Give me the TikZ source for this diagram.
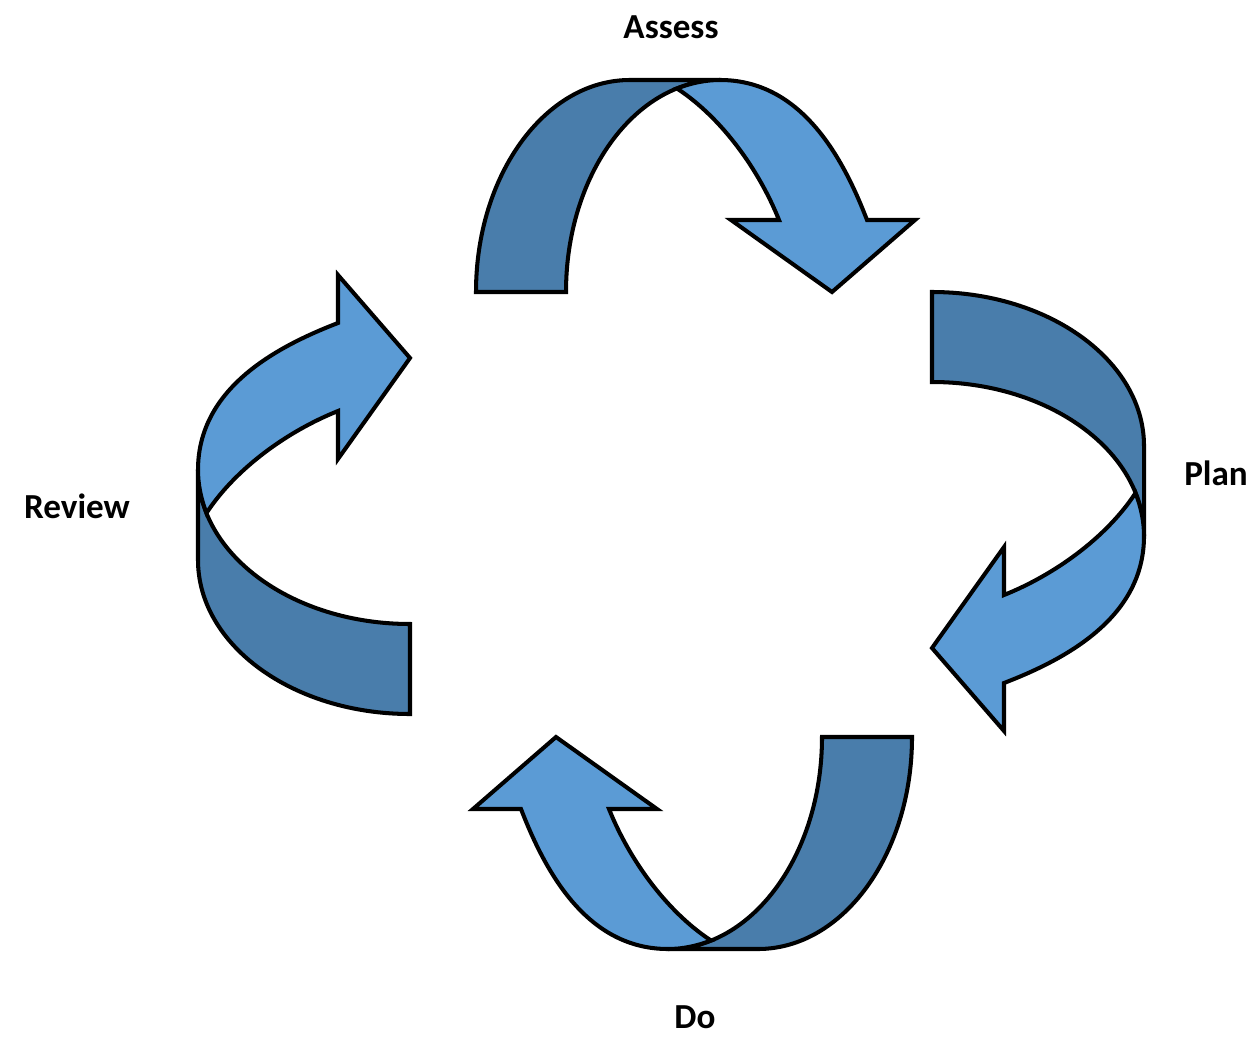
\documentclass[tikz,border=0pt]{standalone}
\usepackage{fontspec}
\setmainfont{Carlito}
\definecolor{bandback}{HTML}{497DAB}
\definecolor{bandfront}{HTML}{5B9BD5}
\tikzset{
  backband/.style={fill=bandback, draw=black, line width=2.3pt},
  frontband/.style={fill=bandfront, draw=black, line width=2.3pt},
  lbl/.style={font=\fontsize{20}{24}\selectfont\bfseries, anchor=base, inner sep=0pt},
  uturn/.pic={
    \path[backband] (0,0) .. controls (0,-117) and (69,-212) .. (154,-212)
      -- (244,-212) .. controls (159,-212) and (90,-117) .. (90,0) -- cycle;
    \path[frontband] (201,-203.5) .. controls (215,-209) and (229.5,-212) .. (244,-212)
      .. controls (324,-212) and (366,-137) .. (391,-72)
      -- (439,-72) -- (356,0) -- (255,-72) -- (303,-72)
      .. controls (283,-122) and (246,-174) .. (201,-203.5) -- cycle;
  }
}
\begin{document}
\begin{tikzpicture}[x=0.02cm,y=-0.02cm]
\useasboundingbox (0,0) rectangle (1256,1037);
\pic at (476,292) {uturn};
\pic[rotate=-90] at (932,292) {uturn};
\pic[rotate=180] at (912,737) {uturn};
\pic[rotate=90] at (410,714) {uturn};
\node[lbl] (assess) at (671,39) {Assess};
\node[lbl] (plan) at (1216,485) {Plan};
\node[lbl] (review) at (77,518) {Review};
\node[lbl] (do) at (695,1028) {Do};
\end{tikzpicture}
\end{document}
